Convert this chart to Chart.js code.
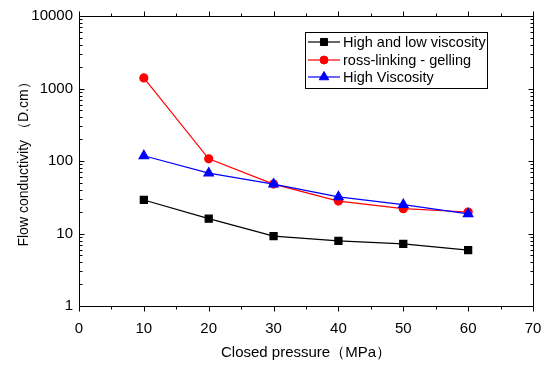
<!DOCTYPE html>
<html>
<head>
<meta charset="utf-8">
<script src="https://cdn.jsdelivr.net/npm/chart.js@4.4.1/dist/chart.umd.min.js"></script>
<style>
html,body{margin:0;padding:0;background:#fff;}
#wrap{width:550px;height:366px;position:relative;}
</style>
</head>
<body>
<div id="wrap"><canvas id="c" width="550" height="366"></canvas></div>
<script>
const pressure = [10, 20, 30, 40, 50, 60];
const highLowViscosity = [29, 16, 9.2, 7.9, 7.2, 5.9];
const crossLinking = [1400, 107, 48, 28, 22, 19.8];
const highViscosity = [118, 68, 48, 32, 25, 18.6];
const seriesNames = ['High and low viscosity', 'ross-linking - gelling', 'High Viscosity'];
const xTicks = [0, 10, 20, 30, 40, 50, 60, 70];
const yTicks = [1, 10, 100, 1000, 10000];

const FONT = '"Liberation Sans", Arial, sans-serif';

function pts(ys){ return pressure.map((x,i)=>({x:x,y:ys[i]})); }

const axisPlugin = {
  id:'axisPlugin',
  afterDatasetsDraw(chart){
    const ctx = chart.ctx, ca = chart.chartArea;
    const xs = chart.scales.x, ys = chart.scales.y;
    ctx.save();
    ctx.strokeStyle = '#000';
    ctx.lineWidth = 1;
    const L = Math.round(ca.left)+0.5, R = Math.round(ca.right)+0.5, T = Math.round(ca.top)+0.5, B = Math.round(ca.bottom)+0.5;
    ctx.beginPath();
    ctx.rect(L, T, R-L, B-T);
    ctx.stroke();
    ctx.beginPath();
    for (let v = xTicks[0]; v <= xTicks[xTicks.length-1]; v += 5) {
      const px = Math.round(xs.getPixelForValue(v))+0.5;
      const len = (v % 10 === 0) ? 5 : 3;
      ctx.moveTo(px, B); ctx.lineTo(px, B+len);
      ctx.moveTo(px, T); ctx.lineTo(px, T-len);
    }
    for (let d = 0; d < yTicks.length; d++) {
      const base = yTicks[d];
      const py = Math.round(ys.getPixelForValue(base))+0.5;
      ctx.moveTo(L, py); ctx.lineTo(L+5, py);
      ctx.moveTo(R, py); ctx.lineTo(R-5, py);
      if (d < yTicks.length-1) {
        for (let m = 2; m <= 9; m++) {
          const pm = Math.round(ys.getPixelForValue(base*m))+0.5;
          ctx.moveTo(L, pm); ctx.lineTo(L+3, pm);
          ctx.moveTo(R, pm); ctx.lineTo(R-3, pm);
        }
      }
    }
    ctx.stroke();

    // legend
    const bx = 305.5, by = 32.5, bw = 182, bh = 56;
    ctx.fillStyle = '#fff';
    ctx.fillRect(bx, by, bw, bh);
    ctx.strokeStyle = '#000';
    ctx.lineWidth = 1;
    ctx.strokeRect(bx, by, bw, bh);
    const rows = [42, 60, 77];
    const ds = chart.data.datasets;
    ctx.font = '14.5px ' + FONT;
    ctx.textBaseline = 'middle';
    ctx.textAlign = 'left';
    ds.forEach((d, r) => {
      const y = rows[r];
      ctx.strokeStyle = d.borderColor;
      ctx.lineWidth = 1.2;
      ctx.beginPath(); ctx.moveTo(308, y); ctx.lineTo(340, y); ctx.stroke();
      ctx.fillStyle = d.pointBackgroundColor;
      ctx.strokeStyle = d.pointBorderColor;
      ctx.lineWidth = 1;
      Chart.helpers.drawPoint(ctx, {pointStyle: d.pointStyle, radius: d.pointRadius, borderWidth: 1}, 324, y);
      ctx.fillStyle = '#000';
      ctx.fillText(d.label, 343, y+0.5);
    });
    ctx.restore();
  }
};

const chart = new Chart(document.getElementById('c'), {
  type: 'scatter',
  data: {
    datasets: [
      {label: seriesNames[0], data: pts(highLowViscosity), showLine: true, borderColor:'#000000', backgroundColor:'#000000', pointBackgroundColor:'#000000', pointBorderColor:'#000000', pointStyle:'rect', pointRadius:5, borderWidth:1.2, order:2},
      {label: seriesNames[1], data: pts(crossLinking), showLine: true, borderColor:'#ff0000', backgroundColor:'#ff0000', pointBackgroundColor:'#ff0000', pointBorderColor:'#ff0000', pointStyle:'circle', pointRadius:4, borderWidth:1.2, order:1},
      {label: seriesNames[2], data: pts(highViscosity), showLine: true, borderColor:'#0000ff', backgroundColor:'#0000ff', pointBackgroundColor:'#0000ff', pointBorderColor:'#0000ff', pointStyle:'triangle', pointRadius:5.5, borderWidth:1.2, order:0}
    ]
  },
  options: {
    responsive: false,
    animation: false,
    layout: {padding: {left: 0, right: 17, top: 16, bottom: 0}},
    plugins: {legend: {display: false}, tooltip: {enabled: false}},
    scales: {
      x: {
        type: 'linear', min: 0, max: 70,
        afterBuildTicks: s => { s.ticks = xTicks.map(v => ({value: v})); },
        afterFit: s => { s.height = 60; s.paddingLeft = 0; s.paddingRight = 0; },
        grid: {display: false, drawTicks: false},
        border: {display: false},
        ticks: {color: '#000', font: {family: FONT, size: 15}, padding: 14, maxRotation: 0, autoSkip: false},
        title: {display: true, text: 'Closed pressure（MPa）', color: '#000', font: {family: FONT, size: 15}, padding: {top: 4, bottom: 4}}
      },
      y: {
        type: 'logarithmic', min: 1, max: 10000,
        afterBuildTicks: s => { s.ticks = yTicks.map(v => ({value: v})); },
        afterFit: s => { s.width = 79; s.paddingTop = 0; s.paddingBottom = 0; },
        grid: {display: false, drawTicks: false},
        border: {display: false},
        ticks: {color: '#000', font: {family: FONT, size: 15}, padding: 6, autoSkip: false, callback: v => String(v)},
        title: {display: true, text: 'Flow conductivity （D.cm）', color: '#000', font: {family: FONT, size: 14}, padding: {top: 16, bottom: 0}}
      }
    }
  },
  plugins: [axisPlugin]
});
</script>
</body>
</html>
